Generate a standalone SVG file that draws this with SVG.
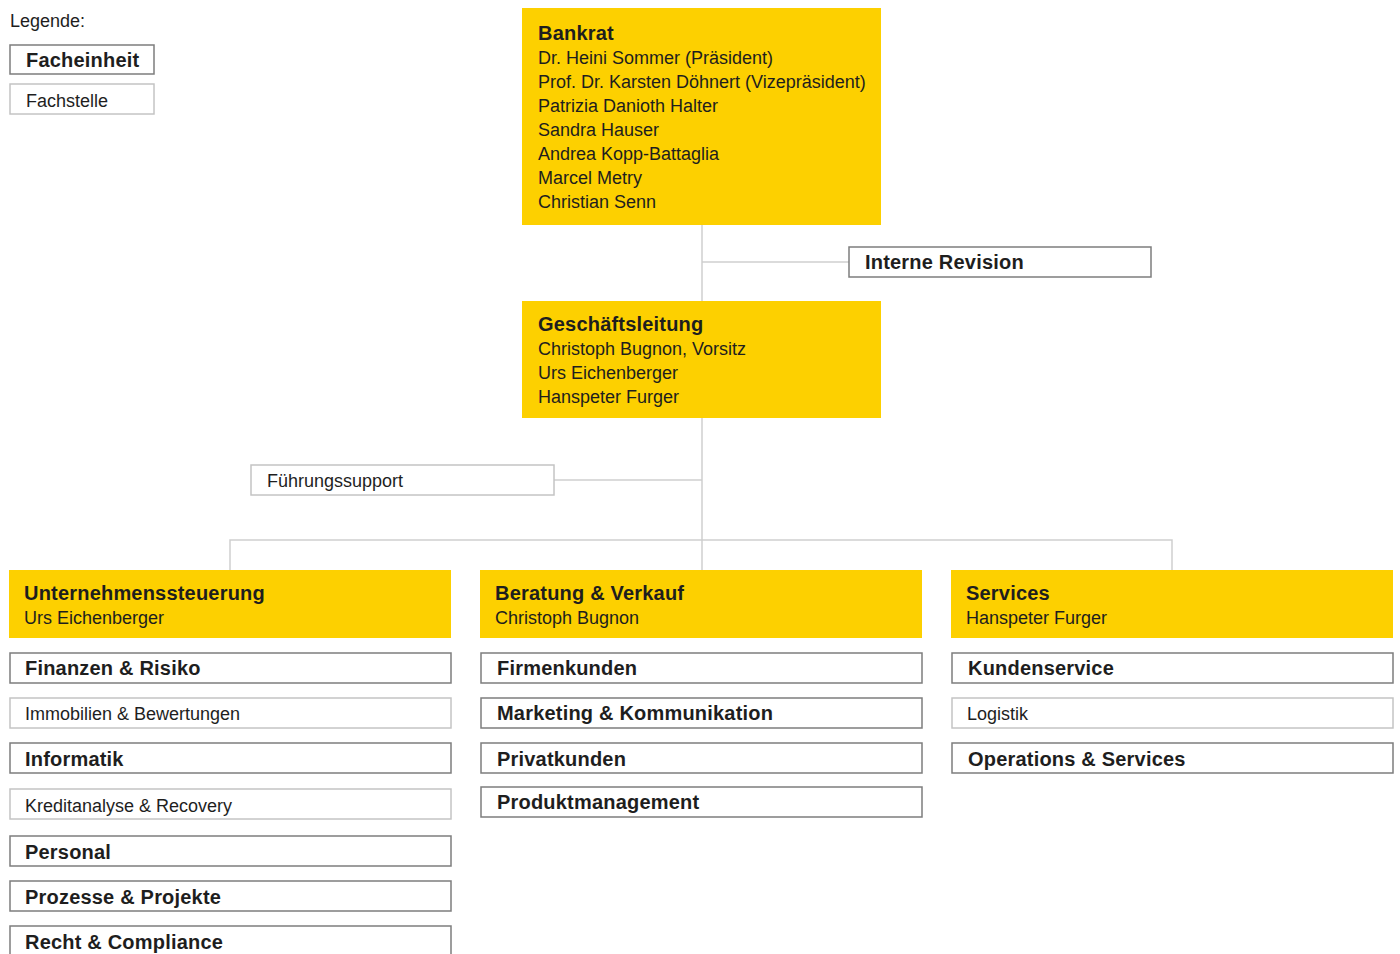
<svg xmlns="http://www.w3.org/2000/svg" width="1400" height="954" viewBox="0 0 1400 954">
<style>
text{font-family:"Liberation Sans",Arial,sans-serif;fill:#1e1e1e}
.t{font-size:18px}
.b{font-size:20px;font-weight:bold;letter-spacing:0.2px}
.y{fill:#FDD000}
.fe{fill:#fff;stroke:#7d7d7d;stroke-width:1.5}
.fs{fill:#fff;stroke:#c4c4c4;stroke-width:1.5}
.c{stroke:#cfcfcf;stroke-width:1.5;fill:none}
</style>
<rect width="1400" height="954" fill="#fff"/>
<g id="legend">
<text class="t" x="10" y="27">Legende:</text>
<rect class="fe" x="10" y="45" width="144" height="29"/>
<text class="b" x="26" y="67">Facheinheit</text>
<rect class="fs" x="10" y="84" width="144" height="30"/>
<text class="t" x="26" y="107">Fachstelle</text>
</g>
<g id="connectors">
<path class="c" d="M702 225V570M702 262H849M554 480H702M230 570V540H1172V570"/>
</g>
<g id="bankrat">
<rect class="y" x="522" y="8" width="359" height="217"/>
<text class="b" x="538" y="40">Bankrat</text>
<text class="t" x="538" y="64">Dr. Heini Sommer (Präsident)</text>
<text class="t" x="538" y="88">Prof. Dr. Karsten Döhnert (Vizepräsident)</text>
<text class="t" x="538" y="112">Patrizia Danioth Halter</text>
<text class="t" x="538" y="136">Sandra Hauser</text>
<text class="t" x="538" y="160">Andrea Kopp-Battaglia</text>
<text class="t" x="538" y="184">Marcel Metry</text>
<text class="t" x="538" y="208">Christian Senn</text>
</g>
<g id="interne-revision">
<rect class="fe" x="849" y="247" width="302" height="30"/>
<text class="b" x="865" y="269">Interne Revision</text>
</g>
<g id="geschaeftsleitung">
<rect class="y" x="522" y="301" width="359" height="117"/>
<text class="b" x="538" y="331">Geschäftsleitung</text>
<text class="t" x="538" y="355">Christoph Bugnon, Vorsitz</text>
<text class="t" x="538" y="379">Urs Eichenberger</text>
<text class="t" x="538" y="403">Hanspeter Furger</text>
</g>
<g id="fuehrungssupport">
<rect class="fs" x="251" y="465" width="303" height="30"/>
<text class="t" x="267" y="487">Führungssupport</text>
</g>
<g id="unternehmenssteuerung">
<rect class="y" x="9" y="570" width="442" height="68"/>
<text class="b" x="24" y="600">Unternehmenssteuerung</text>
<text class="t" x="24" y="624">Urs Eichenberger</text>
</g>
<g id="beratung-verkauf">
<rect class="y" x="480" y="570" width="442" height="68"/>
<text class="b" x="495" y="600">Beratung &amp; Verkauf</text>
<text class="t" x="495" y="624">Christoph Bugnon</text>
</g>
<g id="services">
<rect class="y" x="951" y="570" width="442" height="68"/>
<text class="b" x="966" y="600">Services</text>
<text class="t" x="966" y="624">Hanspeter Furger</text>
</g>
<g id="finanzen-risiko"><rect class="fe" x="10" y="653" width="441" height="30"/><text class="b" x="25" y="675">Finanzen &amp; Risiko</text></g>
<g id="immobilien"><rect class="fs" x="10" y="698" width="441" height="30"/><text class="t" x="25" y="720">Immobilien &amp; Bewertungen</text></g>
<g id="informatik"><rect class="fe" x="10" y="743" width="441" height="30"/><text class="b" x="25" y="766">Informatik</text></g>
<g id="kreditanalyse"><rect class="fs" x="10" y="789" width="441" height="30"/><text class="t" x="25" y="812">Kreditanalyse &amp; Recovery</text></g>
<g id="personal"><rect class="fe" x="10" y="836" width="441" height="30"/><text class="b" x="25" y="859">Personal</text></g>
<g id="prozesse"><rect class="fe" x="10" y="881" width="441" height="30"/><text class="b" x="25" y="904">Prozesse &amp; Projekte</text></g>
<g id="recht"><rect class="fe" x="10" y="926" width="441" height="30"/><text class="b" x="25" y="949">Recht &amp; Compliance</text></g>
<g id="firmenkunden"><rect class="fe" x="481" y="653" width="441" height="30"/><text class="b" x="497" y="675">Firmenkunden</text></g>
<g id="marketing"><rect class="fe" x="481" y="698" width="441" height="30"/><text class="b" x="497" y="720">Marketing &amp; Kommunikation</text></g>
<g id="privatkunden"><rect class="fe" x="481" y="743" width="441" height="30"/><text class="b" x="497" y="766">Privatkunden</text></g>
<g id="produktmanagement"><rect class="fe" x="481" y="787" width="441" height="30"/><text class="b" x="497" y="809">Produktmanagement</text></g>
<g id="kundenservice"><rect class="fe" x="952" y="653" width="441" height="30"/><text class="b" x="968" y="675">Kundenservice</text></g>
<g id="logistik"><rect class="fs" x="952" y="698" width="441" height="30"/><text class="t" x="967" y="720">Logistik</text></g>
<g id="operations"><rect class="fe" x="952" y="743" width="441" height="30"/><text class="b" x="968" y="766">Operations &amp; Services</text></g>
</svg>
